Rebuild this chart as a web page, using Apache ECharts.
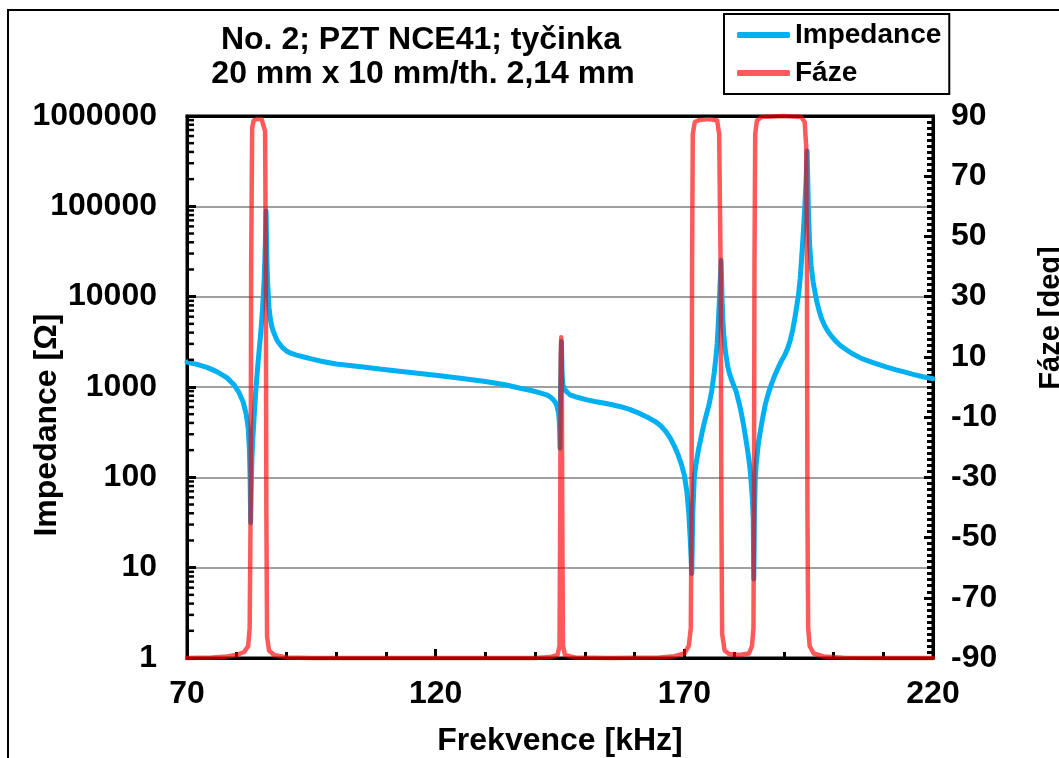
<!DOCTYPE html>
<html><head><meta charset="utf-8">
<script src="https://cdn.jsdelivr.net/npm/echarts@6/dist/echarts.min.js"></script>
<style>html,body{margin:0;padding:0;background:#fff}#c{width:1059px;height:758px}</style>
</head><body><div id="c"></div>
<script>
const titleLines = ['No. 2; PZT NCE41; tyčinka', '20 mm x 10 mm/th. 2,14 mm'];
const seriesNames = ['Impedance', 'Fáze'];
const xAxisTitle = 'Frekvence [kHz]';
const leftAxisTitle = 'Impedance [Ω]';
const rightAxisTitle = 'Fáze [deg]';
const xTickLabels = ['70', '120', '170', '220'];
const impedanceTickLabels = ['1', '10', '100', '1000', '10000', '100000', '1000000'];
const phaseTickLabels = ['-90', '-70', '-50', '-30', '-10', '10', '30', '50', '70', '90'];

// [frequency kHz, impedance Ohm]
const impedancePoints = [
  [70,1890],[72,1780],[74,1650],[76,1480],[78,1270],[79.5,1050],[80.5,860],[81.3,680],[81.9,500],[82.3,355],[82.55,200],[82.7,90],[82.8,31.5],
  [82.9,70],[83.05,160],[83.2,250],[83.35,340],[83.55,520],[83.8,850],[84.05,1300],[84.3,1900],[84.55,2700],[84.8,3800],[85.0,5300],[85.2,7500],
  [85.35,10500],[85.5,15000],[85.6,21000],[85.7,32000],[85.8,50000],[85.9,89000],[86.0,40000],[86.1,22000],[86.2,14500],[86.5,7500],[86.75,5700],
  [87,4800],[87.3,4200],[87.7,3700],[88.1,3280],[88.6,3000],[89.3,2700],[90.1,2480],[91,2350],[92,2250],[93.5,2150],[94.8,2060],[97,1930],[100,1800],
  [105,1680],[110,1550],[115,1450],[120,1350],[125,1250],[130,1150],[134,1060],[137,970],[139,920],[141,860],[142.3,820],[143,780],[143.7,720],
  [144.1,670],[144.4,610],[144.7,520],[144.85,420],[144.95,300],[145.0,210],[145.1,900],[145.3,3180],[145.4,1500],[145.5,1200],[145.6,1050],
  [145.8,980],[146,930],[146.5,870],[147,820],[148.5,770],[150.4,720],[152,690],[154,660],[155.5,635],[157.2,605],[159,565],[161,510],[163,450],
  [164.3,410],[165.3,370],[166.3,320],[167.2,270],[168,222],[168.7,180],[169.4,140],[170,106],[170.5,70],[170.9,40],[171.2,20],[171.5,8.6],
  [171.7,40],[172,100],[172.3,135],[172.6,170],[172.9,210],[173.2,250],[173.6,320],[174,400],[174.5,510],[175,650],[175.5,900],[176,1430],
  [176.3,2000],[176.6,3000],[176.8,4740],[177.0,8000],[177.2,14000],[177.4,25300],[177.6,9000],[177.75,5500],[177.9,4000],[178.1,3000],[178.3,2400],
  [178.7,1710],[179.1,1400],[179.5,1200],[180,1020],[180.4,900],[180.8,740],[181.2,600],[181.6,470],[182,355],[182.3,280],[182.6,220],[182.9,170],
  [183.1,140],[183.3,110],[183.5,80],[183.7,55],[183.85,35],[183.97,7.5],[184.1,40],[184.25,90],[184.45,140],[184.9,240],[185.4,355],[185.8,470],
  [186.3,650],[186.9,850],[187.5,1070],[188.2,1350],[189,1700],[189.6,1980],[190.2,2260],[190.8,2700],[191.3,3300],[191.8,4300],[192.2,5700],
  [192.6,7800],[193,11000],[193.3,16000],[193.5,23000],[193.8,40000],[194.0,60000],[194.2,93000],[194.45,180000],[194.7,410000],[194.95,90000],
  [195.2,36600],[195.5,22000],[195.9,14500],[196.3,11000],[196.6,9000],[197.1,7000],[197.6,5700],[198.2,4800],[198.8,4200],[199.5,3700],[200.3,3280],
  [201.3,2900],[202.5,2600],[204,2300],[205.7,2060],[207.5,1900],[209,1780],[210.7,1660],[212.4,1560],[214,1480],[216,1380],[218,1300],[220,1236]
];

// [frequency kHz, phase deg]
const phasePoints = [
  [70,-90],[75,-89.8],[78,-89.5],[80,-89],[81.5,-88],[82.3,-86],[82.6,-80],[82.8,-40],[82.9,40],[83.1,86],[83.4,88.5],[84,89],[85,89],[85.4,88.5],
  [85.7,85],[85.85,40],[85.95,-40],[86.1,-83],[86.5,-87.5],[87.5,-89],[90,-89.8],[95,-90],[140,-90],[143,-89.7],[144.5,-89],[144.9,-86],[145.05,-40],
  [145.15,10],[145.25,16.5],[145.35,10],[145.45,-40],[145.6,-86],[146,-89],[148,-89.8],[155,-90],[165,-89.8],[168,-89.4],[170,-88.5],[170.9,-86],
  [171.3,-80],[171.45,-40],[171.55,40],[171.7,84],[172.1,88],[173,88.7],[175,89],[176.6,88.5],[177.0,84],[177.3,40],[177.45,-40],[177.6,-82],
  [178.1,-87.5],[179,-88.7],[181,-89],[183,-88.5],[183.6,-86],[183.9,-80],[184.0,-40],[184.1,40],[184.25,84],[184.6,88.5],[185.5,89.7],[190,90],
  [193.5,89.7],[194.2,88],[194.5,80],[194.65,40],[194.75,-40],[194.9,-80],[195.2,-86],[196,-88.5],[198,-89.5],[202,-89.9],[210,-90],[220,-90]
];

const minorLogTickValues = [];
for (let d = 1; d <= 100000; d *= 10) for (let k = 2; k <= 9; k++) minorLogTickValues.push([70, k * d]);

const FONT = '"Liberation Sans", Arial, sans-serif';
const labelStyle = { color: '#000', fontFamily: FONT, fontWeight: 'bold', fontSize: 32 };

const chart = echarts.init(document.getElementById('c'), null, { renderer: 'canvas' });
chart.setOption({
  backgroundColor: '#fff',
  animation: false,
  grid: { left: 187, right: 126, top: 116, bottom: 100, show: true, borderColor: '#000', borderWidth: 3, backgroundColor: 'transparent' },
  legend: {
    data: seriesNames, orient: 'vertical', left: 724, top: 14,
    borderColor: '#000', borderWidth: 2, padding: [5, 8, 5, 13], itemGap: 6,
    itemWidth: 53, itemHeight: 6, icon: 'roundRect', backgroundColor: '#fff',
    textStyle: { color: '#000', fontFamily: FONT, fontWeight: 'bold', fontSize: 28, lineHeight: 32 }
  },
  xAxis: [{
    type: 'value', min: 70, max: 220, interval: 50,
    axisLine: { show: true, onZero: false, lineStyle: { color: '#000', width: 3 } },
    axisTick: { show: true, inside: true, length: 9, lineStyle: { color: '#000', width: 3 } },
    minorTick: { show: true, splitNumber: 5, length: 6, lineStyle: { color: '#000', width: 3 } },
    splitLine: { show: false },
    axisLabel: Object.assign({ margin: 20, formatter: v => xTickLabels[Math.round((v - 70) / 50)] }, labelStyle)
  }, {
    type: 'value', min: 70, max: 220, interval: 50, position: 'top',
    axisLine: { show: true, onZero: false, lineStyle: { color: '#000', width: 3 } },
    axisTick: { show: false }, axisLabel: { show: false }, splitLine: { show: false }
  }],
  yAxis: [{
    type: 'log', logBase: 10, min: 1, max: 1000000, position: 'left',
    axisLine: { show: true, lineStyle: { color: '#000', width: 3 } },
    axisTick: { show: true, inside: true, length: 9, lineStyle: { color: '#000', width: 3 } },
    splitLine: { show: true, lineStyle: { color: '#808080', width: 1.5 } },
    axisLabel: Object.assign({ margin: 30, formatter: v => impedanceTickLabels[Math.round(Math.log10(v))] }, labelStyle)
  }, {
    type: 'value', min: -90, max: 90, interval: 20, position: 'right',
    axisLine: { show: true, lineStyle: { color: '#000', width: 3 } },
    axisTick: { show: true, inside: true, length: 9, lineStyle: { color: '#000', width: 3 } },
    minorTick: { show: true, splitNumber: 10, length: 6, lineStyle: { color: '#000', width: 3 } },
    splitLine: { show: false },
    axisLabel: Object.assign({ margin: 18, formatter: v => phaseTickLabels[Math.round((v + 90) / 20)] }, labelStyle)
  }],
  series: [{
    name: seriesNames[0], type: 'line', yAxisIndex: 0, data: impedancePoints,
    showSymbol: false, symbol: 'none', smooth: false, z: 3,
    lineStyle: { color: '#00B0F0', width: 5, cap: 'round', join: 'round' },
    itemStyle: { color: '#00B0F0' }
  }, {
    name: seriesNames[1], type: 'line', yAxisIndex: 1, data: phasePoints,
    showSymbol: false, symbol: 'none', smooth: false, clip: false, z: 4,
    lineStyle: { color: 'rgba(255,0,0,0.65)', width: 4.5, cap: 'round', join: 'round' },
    itemStyle: { color: 'rgba(255,0,0,0.65)' }
  }, {
    name: 'minorLogTicks', type: 'custom', yAxisIndex: 0, data: minorLogTickValues, silent: true, z: 5, clip: false,
    renderItem: (params, api) => {
      const p = api.coord([api.value(0), api.value(1)]);
      return { type: 'line', shape: { x1: p[0] + 1, y1: p[1], x2: p[0] + 7, y2: p[1] }, style: { stroke: '#000', lineWidth: 2.5 } };
    }
  }],
  graphic: [
    { type: 'rect', silent: true, shape: { x: 8, y: 10, width: 1300, height: 1000 }, style: { fill: 'transparent', stroke: '#000', lineWidth: 2 } },
    { type: 'text', silent: true, x: 421, y: 40, style: { text: titleLines[0], font: 'bold 32px ' + FONT, fill: '#000', align: 'center', verticalAlign: 'middle', textAlign: 'center', textVerticalAlign: 'middle' } },
    { type: 'text', silent: true, x: 423, y: 74, style: { text: titleLines[1], font: 'bold 32px ' + FONT, fill: '#000', align: 'center', verticalAlign: 'middle', textAlign: 'center', textVerticalAlign: 'middle' } },
    { type: 'text', silent: true, x: 560, y: 741, style: { text: xAxisTitle, font: 'bold 32px ' + FONT, fill: '#000', align: 'center', verticalAlign: 'middle', textAlign: 'center', textVerticalAlign: 'middle' } },
    { type: 'text', silent: true, x: 47, y: 425, rotation: Math.PI / 2, style: { text: leftAxisTitle, font: 'bold 32px ' + FONT, fill: '#000', align: 'center', verticalAlign: 'middle', textAlign: 'center', textVerticalAlign: 'middle' } },
    { type: 'text', silent: true, x: 1051, y: 318, rotation: Math.PI / 2, style: { text: rightAxisTitle, font: 'bold 29px ' + FONT, fill: '#000', align: 'center', verticalAlign: 'middle', textAlign: 'center', textVerticalAlign: 'middle' } }
  ]
});
</script></body></html>
